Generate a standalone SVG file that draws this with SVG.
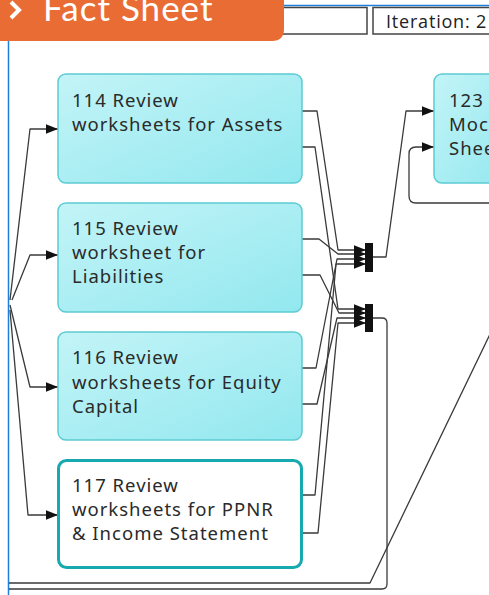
<svg xmlns="http://www.w3.org/2000/svg" width="489" height="595" viewBox="0 0 489 595">
<style>
.frame{fill:none;stroke:#1f7fd6;stroke-width:1.5}
.hdr{fill:#fff;stroke:#444;stroke-width:1.5}
.node{fill:url(#cy);stroke:#5ccbd2;stroke-width:1.5}
.node2{fill:#fff;stroke:#17a9b0;stroke-width:3}
.lbl{font-family:"Noto Sans","Open Sans",sans-serif;font-size:18.5px;letter-spacing:1px;fill:#2a2a2a}
.c{fill:none;stroke:#3a3a3a;stroke-width:1.3;stroke-linejoin:round}
.ca{fill:none;stroke:#3a3a3a;stroke-width:1.3;stroke-linejoin:round;marker-end:url(#arr)}
.bar{fill:#111}
</style>
<defs>
<linearGradient id="cy" x1="0" y1="0" x2="1" y2="1">
<stop offset="0" stop-color="#c3f4f7"/>
<stop offset="1" stop-color="#92e8ef"/>
</linearGradient>
<marker id="arr" viewBox="0 0 10 8" refX="10" refY="4" markerWidth="12" markerHeight="10" markerUnits="userSpaceOnUse" orient="auto">
<path d="M0,0 L10,4 L0,8 z" fill="#111"/>
</marker>
</defs>

<g id="frame">
<line class="frame" x1="8.5" y1="30" x2="8.5" y2="595"/>
<line class="frame" x1="260" y1="5.5" x2="489" y2="5.5"/>
<rect class="hdr" x="250" y="7.5" width="117" height="26.5"/>
<rect class="hdr" x="373" y="7.5" width="130" height="26.5"/>
<text x="386" y="28" font-family="'Open Sans',sans-serif" font-size="18" letter-spacing="0.8" fill="#222">Iteration: 2</text>
</g>

<g id="tab">
<path d="M0,0 H284 V29 Q284,41 272,41 H0 Z" fill="#ea6c35"/>
<polyline points="11,2 19,10 11,18" fill="none" stroke="#fff" stroke-width="4"/>
<text x="43" y="21" font-family="Lato,sans-serif" font-size="35" letter-spacing="1" fill="#fff">Fact Sheet</text>
</g>

<g id="connectors">
<path class="ca" d="M10,300 L30,129 H58"/>
<path class="ca" d="M12,300 L30,255 H58"/>
<path class="ca" d="M10,305 L30,387 H58"/>
<path class="ca" d="M10,310 L28,515 H58"/>

<path class="ca" d="M302,111 H317 L338,250 H366"/>
<path class="ca" d="M302,239 H319 L338,254 H366"/>
<path class="ca" d="M302,368 H316 L337,259 H366"/>
<path class="ca" d="M302,495 H315 L336,264 H366"/>

<path class="ca" d="M302,147 H315 L338,309 H366"/>
<path class="ca" d="M302,275 H320 L339,313 H366"/>
<path class="ca" d="M302,404 H317 L337,318 H366"/>
<path class="ca" d="M302,533 H318 L338,323 H366"/>

<path class="ca" d="M373,257 H386 L406,111 H434"/>
<path class="ca" d="M489,203 H416 Q409,203 409,196 V154 Q409,147 416,147 H434"/>
<path class="c" d="M373,318 H382 Q387,318 387,323 V584 Q387,589 382,589 H9"/>
<path class="c" d="M9,583 H370 L492,330"/>
<rect class="bar" x="365" y="243" width="8" height="29"/>
<rect class="bar" x="365" y="304" width="8" height="28"/>
</g>

<g id="n114">
<rect class="node" x="58" y="74" width="244" height="109" rx="8"/>
<text class="lbl" x="72" y="107">114 Review</text>
<text class="lbl" x="72" y="131">worksheets for Assets</text>
</g>
<g id="n115">
<rect class="node" x="58" y="203" width="244" height="109" rx="8"/>
<text class="lbl" x="72" y="235">115 Review</text>
<text class="lbl" x="72" y="259">worksheet for</text>
<text class="lbl" x="72" y="283">Liabilities</text>
</g>
<g id="n116">
<rect class="node" x="58" y="332" width="244" height="108" rx="8"/>
<text class="lbl" x="72" y="364">116 Review</text>
<text class="lbl" x="72" y="389">worksheets for Equity</text>
<text class="lbl" x="72" y="413">Capital</text>
</g>
<g id="n117">
<rect class="node2" x="58.5" y="460.5" width="243" height="107" rx="8"/>
<text class="lbl" x="72" y="492">117 Review</text>
<text class="lbl" x="72" y="516">worksheets for PPNR</text>
<text class="lbl" x="72" y="540">&amp; Income Statement</text>
</g>
<g id="n123">
<rect class="node" x="434" y="74" width="80" height="109" rx="8"/>
<text class="lbl" x="449" y="107">123</text>
<text class="lbl" x="449" y="131">Moc</text>
<text class="lbl" x="449" y="155">Shee</text>
</g>
</svg>
